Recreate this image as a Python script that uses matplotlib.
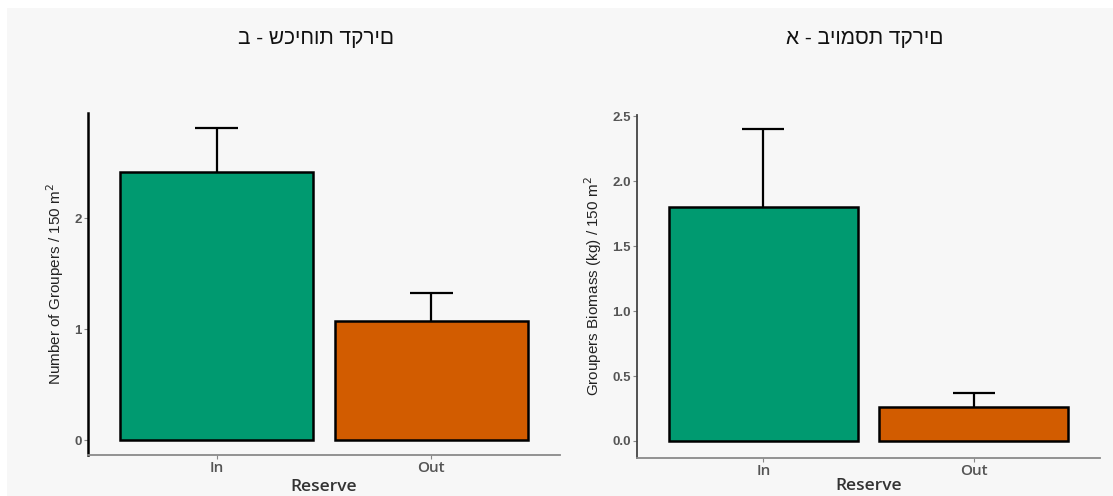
import matplotlib
matplotlib.use("Agg")
import matplotlib.pyplot as plt
from matplotlib.patches import Rectangle

plt.rcParams["font.family"] = ["Open Sans", "DejaVu Sans"]

# Data
reserve = ["In", "Out"]
groupers_count = [2.41, 1.07]
groupers_count_se = [0.40, 0.25]
groupers_biomass = [1.80, 0.262]
groupers_biomass_se = [0.60, 0.11]

count_ticks = [0, 1, 2]
count_tick_labels = ["0", "1", "2"]
biomass_ticks = [0.0, 0.5, 1.0, 1.5, 2.0, 2.5]
biomass_tick_labels = ["0.0", "0.5", "1.0", "1.5", "2.0", "2.5"]

title_left = "ב - שכיחות דקרים"
title_right = "א - ביומסת דקרים"
ylabel_left = "Number of Groupers / 150 m$^2$"
ylabel_right = "Groupers Biomass (kg) / 150 m$^2$"
xlabel = "Reserve"

colors = ["#009A70", "#D25C00"]
panel_bg = "#f7f7f7"

W, H = 1113, 496
fig = plt.figure(figsize=(W / 100, H / 100), dpi=100)
fig.patch.set_facecolor("white")
fig.add_artist(Rectangle((7 / W, 0), 1 - 7 / W, (H - 8) / H,
                         transform=fig.transFigure, facecolor=panel_bg,
                         edgecolor="none", zorder=0))


def panel(rect, values, errors, ticks, tick_labels, ylim, ylabel,
          left_spine_color, left_spine_width, xlabelpad):
    ax = fig.add_axes(rect)
    ax.set_facecolor("none")
    x = list(range(len(reserve)))
    ax.vlines(x, values, [v + e for v, e in zip(values, errors)],
              color="black", linewidth=1.6, zorder=1)
    ax.hlines([v + e for v, e in zip(values, errors)],
              [i - 0.1 for i in x], [i + 0.1 for i in x],
              color="black", linewidth=1.6, zorder=1)
    ax.bar(x, values, width=0.9, color=colors, edgecolor="black",
           linewidth=1.8, zorder=2)
    ax.set_xlim(-0.6, 1.6)
    ax.set_ylim(*ylim)
    ax.set_xticks(x)
    ax.set_xticklabels(reserve, fontsize=11, fontweight="semibold",
                       color="#555555")
    ax.set_yticks(ticks)
    ax.set_yticklabels(tick_labels, fontsize=9.5, fontweight="bold",
                       color="#555555", family=["Liberation Sans"])
    ax.tick_params(axis="both", length=3, width=0.8, color="#888888")
    ax.tick_params(axis="y", pad=1.5)
    ax.tick_params(axis="x", pad=1)
    for s in ("top", "right"):
        ax.spines[s].set_visible(False)
    ax.spines["left"].set_color(left_spine_color)
    ax.spines["left"].set_linewidth(left_spine_width)
    ax.spines["bottom"].set_color("#8a8a8a")
    ax.spines["bottom"].set_linewidth(1.3)
    ax.set_xlabel(xlabel, fontsize=12.5, fontweight="semibold",
                  color="#333333", labelpad=xlabelpad)
    ax.set_ylabel(ylabel, fontsize=11, family=["Liberation Sans"],
                  color="#222222", labelpad=6)
    return ax


panel([88 / W, 41 / H, 472 / W, 342 / H], groupers_count, groupers_count_se,
      count_ticks, count_tick_labels, (-0.135, 2.946), ylabel_left,
      "black", 1.8, 3)
panel([637 / W, 38 / H, 463 / W, 343 / H], groupers_biomass,
      groupers_biomass_se, biomass_ticks, biomass_tick_labels,
      (-0.131, 2.51), ylabel_right, "#444444", 1.3, 0.5)

fig.text(316 / W, 1 - 38 / H, title_left, ha="center", va="center",
         fontsize=15, color="#111111", family=["Liberation Sans", "DejaVu Sans"])
fig.text(865 / W, 1 - 38 / H, title_right, ha="center", va="center",
         fontsize=15, color="#111111", family=["Liberation Sans", "DejaVu Sans"])

fig.savefig("out.png", dpi=100, facecolor=fig.get_facecolor())
